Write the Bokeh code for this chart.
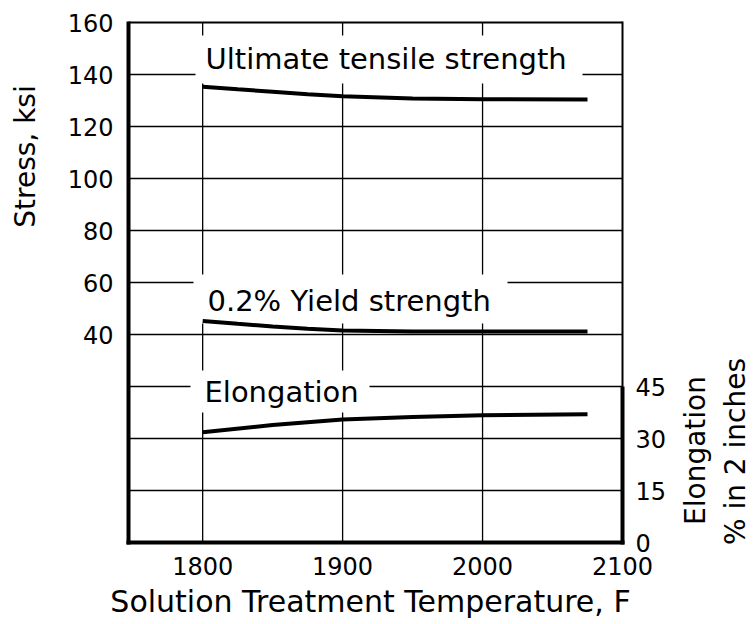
from bokeh.plotting import figure
from bokeh.models import Range1d, LinearAxis, FixedTicker, Label
from bokeh.embed import file_html
from bokeh.resources import INLINE

# ---- data ----
temps_uts = [1800, 1825, 1850, 1875, 1900, 1950, 2000, 2075]
uts = [135.3, 134.3, 133.4, 132.4, 131.6, 130.8, 130.5, 130.4]

temps_ys = [1800, 1825, 1850, 1875, 1900, 1950, 2000, 2075]
yield_str = [45.2, 44.1, 43.1, 42.2, 41.5, 41.2, 41.2, 41.2]

temps_el = [1800, 1850, 1900, 1950, 2000, 2075]
elong = [31.8, 33.9, 35.5, 36.2, 36.7, 37.0]

stress_ticks = [40, 60, 80, 100, 120, 140, 160]
stress_grid = [-20, 0, 20, 40, 60, 80, 100, 120, 140]
elong_ticks = [0, 15, 30, 45]
temp_ticks = [1800, 1900, 2000, 2100]
temp_grid = [1800, 1900, 2000]

# ---- layout: the plotting box inside a full-canvas frame ----
W, H = 753, 624
BOX_L, BOX_R, BOX_T, BOX_B = 128, 622, 22, 542      # pixels
T_MIN, T_MAX = 1747, 2100                            # temperature span of box
S_MIN, S_MAX = -40, 160                              # stress span of box
E_PER_S = 0.75                                       # elongation units per ksi
kx = (BOX_R - BOX_L) / (T_MAX - T_MIN)
ky = (BOX_B - BOX_T) / (S_MAX - S_MIN)
X0, X1 = T_MIN - BOX_L / kx, T_MAX + (W - BOX_R) / kx
Y0, Y1 = S_MIN - (H - BOX_B) / ky, S_MAX + BOX_T / ky
TXT_SHIFT = 12   # bokeh places the alphabetic baseline this many px lower

def tx(px):   # pixel x -> temperature
    return T_MIN + (px - BOX_L) / kx

def sy(py):   # pixel y -> stress
    return S_MAX - (py - BOX_T) / ky

def ey(py):   # pixel y -> elongation
    return (sy(py) - S_MIN) * E_PER_S

FONT = "DejaVu Sans"

p = figure(width=W, height=H, x_range=Range1d(X0, X1), y_range=Range1d(Y0, Y1),
           x_axis_location=None, y_axis_location=None,
           output_backend="svg", toolbar_location=None, min_border=0)
p.extra_y_ranges = {"elong": Range1d((Y0 - S_MIN) * E_PER_S, (Y1 - S_MIN) * E_PER_S)}
p.grid.visible = False
p.outline_line_color = None
p.background_fill_color = "white"
p.border_fill_color = "white"

# grid lines
n_h = len(stress_grid)
p.segment(x0=[T_MIN] * n_h, y0=stress_grid, x1=[T_MAX] * n_h, y1=stress_grid,
          line_color="black", line_width=1.3)
n_v = len(temp_grid)
p.segment(x0=temp_grid, y0=[S_MIN] * n_v, x1=temp_grid, y1=[S_MAX] * n_v,
          line_color="black", line_width=1.3)

# white masks behind the curve captions (gaps in the grid)
masks = [(195, 582, 35, 83), (193, 507, 274, 323), (190, 369, 370, 412)]
p.quad(left=[tx(m[0]) for m in masks], right=[tx(m[1]) for m in masks],
       top=[sy(m[2]) for m in masks], bottom=[sy(m[3]) for m in masks],
       fill_color="white", line_color=None)

# curves
p.line(temps_uts, uts, line_color="black", line_width=4)
p.line(temps_ys, yield_str, line_color="black", line_width=4)
p.line(temps_el, elong, line_color="black", line_width=4, y_range_name="elong")

def style_axis(ax, width, size="24px"):
    ax.axis_line_width = width
    ax.axis_line_color = "black"
    ax.major_tick_out = 0
    ax.major_tick_in = 0
    ax.minor_tick_out = 0
    ax.minor_tick_in = 0
    ax.major_label_text_font = FONT
    ax.major_label_text_font_size = size
    ax.major_label_text_color = "black"

ext_x = 2 / kx
ext_y = 2 / ky

left = LinearAxis(fixed_location=T_MIN, ticker=FixedTicker(ticks=stress_ticks),
                  bounds=(S_MIN - ext_y, S_MAX + ext_y / 2))
style_axis(left, 4)
left.major_label_standoff = 15
p.add_layout(left, "left")

bottom = LinearAxis(fixed_location=S_MIN, ticker=FixedTicker(ticks=temp_ticks),
                    bounds=(T_MIN - ext_x, T_MAX + ext_x))
style_axis(bottom, 4)
bottom.major_label_standoff = 14
p.add_layout(bottom, "below")

top = LinearAxis(fixed_location=S_MAX, ticker=FixedTicker(ticks=[]),
                 bounds=(T_MIN, T_MAX))
style_axis(top, 2)
p.add_layout(top, "above")

right_thin = LinearAxis(fixed_location=T_MAX, ticker=FixedTicker(ticks=[]),
                        bounds=(S_MIN, S_MAX + ext_y / 2))
style_axis(right_thin, 2)
p.add_layout(right_thin, "right")

right = LinearAxis(y_range_name="elong", fixed_location=T_MAX,
                   ticker=FixedTicker(ticks=elong_ticks),
                   bounds=(-ext_y * E_PER_S, 45))
style_axis(right, 4)
right.major_label_standoff = 13
p.add_layout(right, "right")

# curve captions (pixel positions are of the text baseline in the reference)
def caption(px, py, text):
    p.add_layout(Label(x=tx(px), y=sy(py - TXT_SHIFT), text=text, text_font=FONT,
                       text_font_size="29px", text_color="black",
                       text_baseline="alphabetic", text_align="left"))

caption(205, 70, "Ultimate tensile strength")
caption(207, 312, "0.2% Yield strength")
caption(204, 403, "Elongation")

# axis titles
def title(x, y, text, size, angle=0, yr="default"):
    p.add_layout(Label(x=x, y=y, y_range_name=yr, text=text, text_font=FONT,
                       text_font_size=size, text_color="black",
                       text_align="center", text_baseline="alphabetic",
                       angle=angle, angle_units="deg"))

title(tx(370), sy(613 - TXT_SHIFT), "Solution Treatment Temperature, F", "30px")
title(tx(37 - TXT_SHIFT), sy(156), "Stress, ksi", "28px", angle=90)
title(tx(707 - TXT_SHIFT), ey(450), "Elongation", "28px", angle=90, yr="elong")
title(tx(747 - TXT_SHIFT), ey(451), "% in 2 inches", "28px", angle=90, yr="elong")

open("out.html", "w").write(file_html(p, INLINE))
